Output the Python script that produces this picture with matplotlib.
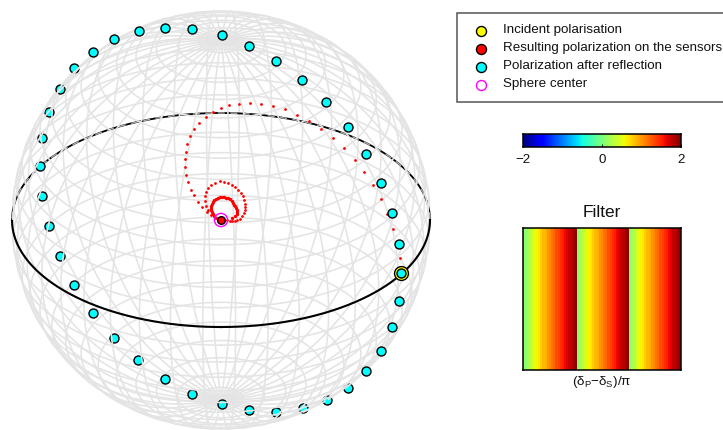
import numpy as np
import matplotlib
matplotlib.use("Agg")
import matplotlib.pyplot as plt
from matplotlib.patches import Rectangle

plt.rcParams['font.family'] = ['Liberation Sans', 'DejaVu Sans']
plt.rcParams['mathtext.default'] = 'regular'

# points, in sphere radii from the sphere centre
# front side of the ring
cyan_front_x = [-0.612, -0.512, -0.392, -0.268, -0.139, 0.005, 0.134, 0.263, 0.388, 0.502, 0.608, 0.694, 0.766,
                0.818, 0.852, 0.861, 0.852, 0.818, 0.766, 0.694]
cyan_front_y = [0.804, 0.866, 0.904, 0.919, 0.914, 0.885, 0.833, 0.761, 0.670, 0.565, 0.445, 0.316, 0.177,
                0.033, -0.115, -0.254, -0.388, -0.512, -0.627, -0.722]
# back side, seen through the mesh
cyan_back_x = [-0.703, -0.770, -0.823, -0.856, -0.866, -0.856, -0.823, -0.770, -0.703, -0.612, -0.512, -0.397,
               -0.268, -0.139, 0.005, 0.134, 0.263, 0.392, 0.507, 0.608]
cyan_back_y = [0.727, 0.627, 0.517, 0.392, 0.258, 0.115, -0.029, -0.172, -0.311, -0.445, -0.565, -0.670,
               -0.761, -0.833, -0.880, -0.909, -0.919, -0.900, -0.861, -0.804]

incident_x = [0.861]
incident_y = [-0.254]
center_x = [0.0]
center_y = [0.0]

# red trail: long arc from the incident point
arc_x = [0.856, 0.842, 0.823, 0.794, 0.766, 0.727, 0.684, 0.641, 0.589, 0.536, 0.478, 0.421, 0.364, 0.306, 0.249,
         0.191, 0.139, 0.086, 0.038, 0.0, -0.038, -0.072, -0.105, -0.129, -0.148, -0.163, -0.167, -0.172, -0.172,
         -0.167, -0.158, -0.144, -0.129, -0.110, -0.091, -0.067, -0.048]
arc_y = [-0.182, -0.110, -0.043, 0.029, 0.100, 0.167, 0.230, 0.287, 0.344, 0.392, 0.435, 0.474, 0.502, 0.531, 0.545,
         0.555, 0.560, 0.555, 0.550, 0.536, 0.517, 0.493, 0.464, 0.435, 0.402, 0.364, 0.325, 0.292, 0.254,
         0.215, 0.182, 0.144, 0.120, 0.086, 0.062, 0.038, 0.024]
# then the two loops round the centre
outer_x = [-0.062, -0.072, -0.077, -0.077, -0.072, -0.062, -0.048, -0.029, -0.005, 0.014, 0.033, 0.053, 0.067, 0.081,
           0.096, 0.105, 0.110, 0.115, 0.115, 0.115, 0.110, 0.100, 0.091, 0.077, 0.067, 0.053, 0.043, 0.029]
outer_y = [0.048, 0.067, 0.091, 0.115, 0.134, 0.153, 0.167, 0.177, 0.187, 0.182, 0.177, 0.167, 0.158, 0.144,
           0.129, 0.115, 0.096, 0.077, 0.062, 0.048, 0.033, 0.019, 0.005, 0.0, -0.005, -0.005, -0.005, 0.0]
inner_x = [0.014, -0.024, -0.033, -0.038, -0.043, -0.048, -0.048, -0.048, -0.043, -0.038, -0.033, -0.024, -0.014,
           -0.005, 0.005, 0.014, 0.024, 0.033, 0.043, 0.053, 0.057, 0.062, 0.067, 0.072, 0.077, 0.077, 0.077,
           0.067, 0.053]
inner_y = [0.0, 0.010, 0.019, 0.029, 0.038, 0.048, 0.057, 0.067, 0.077, 0.086, 0.096, 0.100, 0.105,
           0.110, 0.110, 0.110, 0.105, 0.105, 0.100, 0.091, 0.081, 0.072, 0.067, 0.057, 0.048, 0.038, 0.029,
           0.019, 0.010]

legend_labels = ['Incident polarisation', 'Resulting polarization on the sensors',
                 'Polarization after reflection', 'Sphere center']
colorbar_ticks = [-2, 0, 2]
# teeth of the filter, left to right
filter_tooth = [0.1, 0.2, 0.3, 0.4, 0.5, 0.6, 0.65, 0.75, 0.85, 0.9, 1.0, 1.05, 1.15, 1.2, 1.3, 1.35, 1.45, 1.5,
                1.6, 1.65, 1.75, 1.8, 1.9, 1.95]
filter_first = [0.05] + filter_tooth

ELEV = np.radians(30.8)
R_PX = 209.0


def project(lon, lat):
    x = np.cos(lat) * np.sin(lon)
    d = np.cos(lat) * np.cos(lon)
    y = np.sin(lat) * np.cos(ELEV) - d * np.sin(ELEV)
    depth = d * np.cos(ELEV) + np.sin(lat) * np.sin(ELEV)
    return x, y, depth


def draw_mesh(ax, front, z):
    # the sphere wireframe, cut into the half facing us or the half behind
    col = '#e4e4e4'
    t = np.linspace(0, 2 * np.pi, 361)
    for lon0 in np.radians(np.arange(0, 360, 9) + 4):
        lat = np.linspace(-np.pi / 2, np.pi / 2, 181)
        x, y, d = project(np.full_like(lat, lon0), lat)
        keep = d >= 0 if front else d <= 0
        ax.plot(np.where(keep, x, np.nan), np.where(keep, y, np.nan), color=col, lw=1.15, zorder=z)
    for lat0 in np.radians(np.arange(-84, 90, 6)):
        x, y, d = project(t, np.full_like(t, lat0))
        keep = d >= 0 if front else d <= 0
        ax.plot(np.where(keep, x, np.nan), np.where(keep, y, np.nan), color=col, lw=1.15, zorder=z)


fig = plt.figure(figsize=(7.23, 4.30), dpi=100)

ax = fig.add_axes([0, 0, 1, 1])
ax.set_xlim(-221 / R_PX, (723 - 221) / R_PX)
ax.set_ylim(-(430 - 220) / R_PX, 220 / R_PX)
ax.axis('off')

draw_mesh(ax, False, 1)

# equator, the far half lies under the front mesh
t = np.linspace(0, 2 * np.pi, 721)
ex, ey, ed = project(t, np.zeros_like(t))
ax.plot(np.where(ed <= 0, ex, np.nan), np.where(ed <= 0, ey, np.nan), color='black', lw=1.3, zorder=2)
ax.plot(np.where(ed <= 0, ex, np.nan), np.where(ed <= 0, ey, np.nan), color='#aaaaaa', lw=1.0, zorder=2.1,
        dashes=(5, 4))
ax.scatter(cyan_back_x, cyan_back_y, s=42, c='#00ffff', edgecolors='black', linewidths=1.0, zorder=3)

draw_mesh(ax, True, 4)

ax.plot(np.where(ed >= 0, ex, np.nan), np.where(ed >= 0, ey, np.nan), color='black', lw=1.5, zorder=5)
ax.scatter(arc_x, arc_y, s=4, c='#ff0000', linewidths=0, zorder=6)
ax.scatter(outer_x, outer_y, s=4, c='#ff0000', linewidths=0, zorder=6)
ax.scatter(inner_x, inner_y, s=6, c='#ff0000', linewidths=0, zorder=6)
ax.scatter(incident_x, incident_y, s=100, c='#ffff00', edgecolors='black', linewidths=1.0, zorder=7)
ax.scatter(cyan_front_x, cyan_front_y, s=42, c='#00ffff', edgecolors='black', linewidths=1.0, zorder=8)
ax.scatter(center_x, center_y, s=30, c='#ff0000', edgecolors='black', linewidths=1.0, zorder=9)
ax.scatter(center_x, center_y, s=90, facecolors='none', edgecolors='#ff00ff', linewidths=1.0, zorder=10)

# legend box runs off the right edge of the figure
lax = fig.add_axes([0, 0, 1, 1])
lax.set_xlim(0, 1)
lax.set_ylim(0, 1)
lax.axis('off')
lax.add_patch(Rectangle((456.5 / 723, 1 - 102 / 430), 1, 89 / 430, facecolor='white', edgecolor='#555555', lw=1.1))
legend_face = ['#ffff00', '#ff0000', '#00ffff', 'white']
legend_edge = ['black', 'black', 'black', '#ff00ff']
for i, lab in enumerate(legend_labels):
    yy = 1 - (31 + 18 * i) / 430
    lax.scatter([481 / 723], [yy], s=52, c=legend_face[i], edgecolors=legend_edge[i], linewidths=1.0)
    lax.text(503 / 723, yy + 1.0 / 430, lab, fontsize=9.6, color='#111111', va='center', ha='left')

cax = fig.add_axes([523 / 723, 1 - 147 / 430, 158 / 723, 13 / 430])
grad = np.linspace(-2, 2, 256).reshape(1, -1)
cax.imshow(grad, aspect='auto', cmap='jet', vmin=-2, vmax=2, extent=[-2, 2, 0, 1])
cax.set_yticks([])
cax.set_xticks(colorbar_ticks)
cax.set_xticklabels(['\u22122', '0', '2'], fontsize=9.6, color='#111111')
cax.tick_params(axis='x', direction='in', length=2, width=0.6, pad=5)

fax = fig.add_axes([523 / 723, 1 - 370 / 430, 158 / 723, 142 / 430])
row = np.array(filter_first + filter_tooth * 2).reshape(1, -1)
fax.imshow(row, aspect='auto', cmap='jet', vmin=-2, vmax=2, interpolation='nearest')
fax.set_xticks([])
fax.set_yticks([])
fax.set_title('Filter', fontsize=12.5, color='#111111', pad=8)
fax.set_xlabel('(\u03b4$_{P}$\u2212\u03b4$_{S}$)/\u03c0', fontsize=9.6, color='#111111', labelpad=3)
for s in list(fax.spines.values()) + list(cax.spines.values()):
    s.set_linewidth(1.1)

fig.savefig('out.png', dpi=100)
